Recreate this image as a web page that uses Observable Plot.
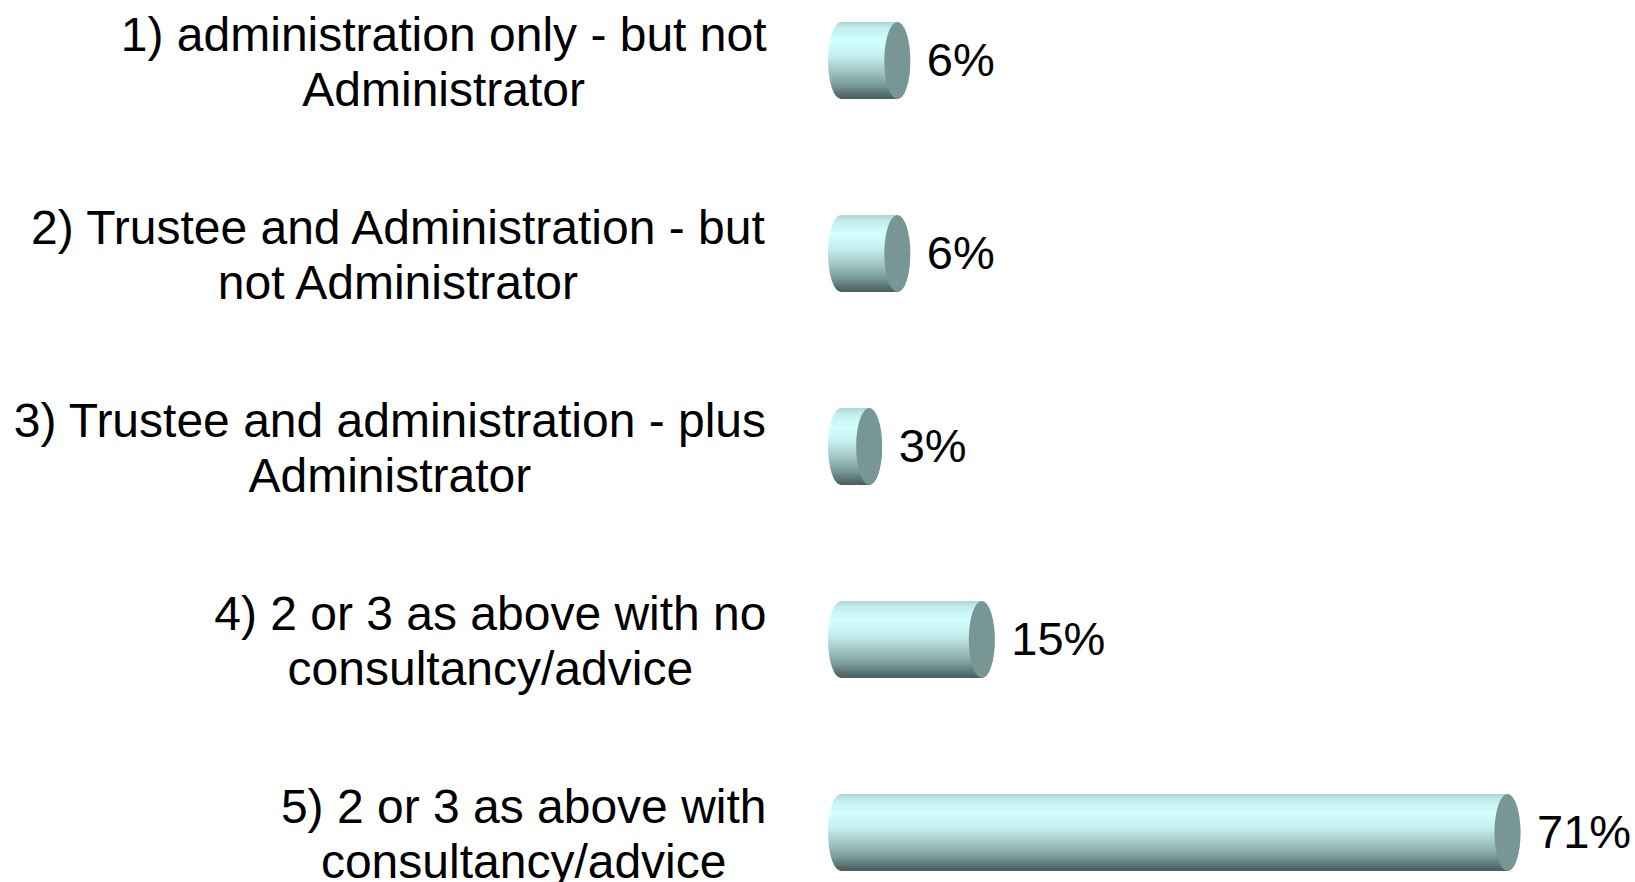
<!DOCTYPE html>
<html>
<head>
<meta charset="utf-8">
<script src="https://cdn.jsdelivr.net/npm/d3@7"></script>
<script src="https://cdn.jsdelivr.net/npm/@observablehq/plot@0.6"></script>
<style>
  html, body { margin: 0; padding: 0; background: #fff; }
  #chart svg { display: block; }
</style>
</head>
<body>
<div id="chart"></div>
<script>
// ---- data ----
const categories = [
  "1) administration only - but not\nAdministrator",
  "2) Trustee and Administration - but\nnot Administrator",
  "3) Trustee and administration - plus\nAdministrator",
  "4) 2 or 3 as above with no\nconsultancy/advice",
  "5) 2 or 3 as above with\nconsultancy/advice"
];
const values = [6, 6, 3, 15, 71];
const valueLabels = ["6%", "6%", "3%", "15%", "71%"];

const data = categories.map((c, i) => ({cat: c, value: values[i], label: valueLabels[i]}));

// ---- styling ----
const FONT = "Liberation Sans, Arial, sans-serif";
const LABEL_SIZE = 48;
const VALUE_SIZE = 47;
const CAP_RX = 13;

// measure lines to centre each multi-line label block, right-aligned as a block
const ctx = document.createElement("canvas").getContext("2d");
ctx.font = `${LABEL_SIZE}px ${FONT}`;
const blockWidth = c => d3.max(c.split("\n"), l => ctx.measureText(l).width);

const defs = () => {
  const svg = d3.create("svg:defs");
  const g = svg.append("linearGradient").attr("id", "cyl").attr("x1", 0).attr("y1", 0).attr("x2", 0).attr("y2", 1);
  [[0, "#aed4d4"], [0.08, "#c4eeee"], [0.25, "#d2ffff"], [0.45, "#c4eded"], [0.65, "#9fc2c2"],
   [0.82, "#7a9a9a"], [0.94, "#566e6e"], [1, "#4a5e5e"]]
    .forEach(([o, c]) => g.append("stop").attr("offset", o).attr("stop-color", c));
  return svg.node();
};

const labelMarks = data.map(d => Plot.text([d], {
  x: () => 0,
  y: "cat",
  text: "cat",
  textAnchor: "middle",
  lineAnchor: "middle",
  lineHeight: 1.15,
  fontSize: LABEL_SIZE,
  fill: "#000",
  dx: -75 - blockWidth(d.cat) / 2
}));

const chart = Plot.plot({
  width: 1635,
  height: 882,
  marginTop: 21,
  marginBottom: 10,
  marginLeft: 828,
  marginRight: 0,
  style: {fontFamily: FONT, background: "#fff"},
  x: {domain: [0, 71], range: [841, 1507.5], axis: null},
  y: {domain: categories, range: [21.3, 872.3], paddingInner: 0.6, paddingOuter: 0, axis: null},
  marks: [
    defs,
    // cylinder body
    Plot.barX(data, {x1: () => 0, x2: "value", y: "cat", fill: "url(#cyl)",
      insetLeft: -CAP_RX, insetRight: -CAP_RX, rx: CAP_RX, ry: 38.75}),
    // end cap
    Plot.barX(data, {x1: "value", x2: "value", y: "cat", fill: "#789696",
      insetLeft: -CAP_RX, insetRight: -CAP_RX, rx: CAP_RX, ry: 38.75}),
    // value labels
    Plot.text(data, {x: "value", y: "cat", text: "label", textAnchor: "start",
      dx: 29, fontSize: VALUE_SIZE, fill: "#000"}),
    ...labelMarks
  ]
});

document.getElementById("chart").appendChild(chart);
</script>
</body>
</html>
